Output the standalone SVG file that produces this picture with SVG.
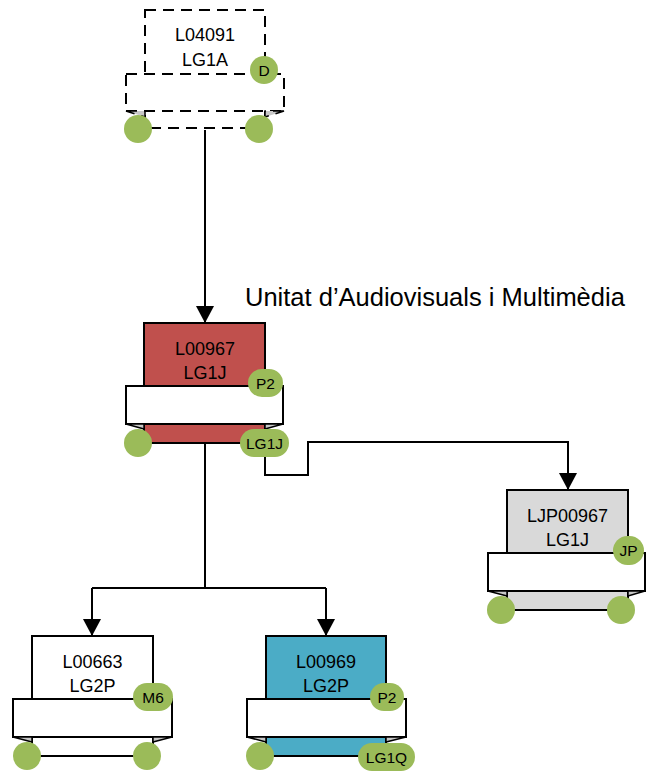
<svg xmlns="http://www.w3.org/2000/svg" width="646" height="771" viewBox="0 0 646 771">
<style>
.box{stroke:#000;stroke-width:2}
.dash{stroke-dasharray:11 7}
.ban{fill:#fff;stroke:#000;stroke-width:2}
.fold{fill:#C8C8C8;stroke:#000;stroke-width:1.5}
.dot{fill:#9BBB59}
.t{font-family:"Liberation Sans",Arial,sans-serif;font-size:18px;fill:#000;text-anchor:middle}
.p{font-family:"Liberation Sans",Arial,sans-serif;font-size:15.5px;fill:#000;text-anchor:middle}
.con{fill:none;stroke:#000;stroke-width:2}
</style>
<defs>
<marker id="arr" markerUnits="userSpaceOnUse" markerWidth="18" markerHeight="18" refX="17" refY="9" orient="auto">
<path d="M0,0 L17,9 L0,18 Z" fill="#000"/>
</marker>
</defs>

<g id="connectors">
<path class="con" d="M205,130 V323" marker-end="url(#arr)"/>
<path class="con" d="M205,443 V588 M92,588 H326"/>
<path class="con" d="M92,588 V636" marker-end="url(#arr)"/>
<path class="con" d="M326,588 V636" marker-end="url(#arr)"/>
<path class="con" d="M265,457 V475 H308 V442 H568 V490" marker-end="url(#arr)"/>
</g>

<g id="node-L04091">
<rect class="box dash" x="145" y="10" width="120" height="118" fill="#fff"/>
<text class="t" x="205" y="41">L04091</text>
<text class="t" x="205" y="66">LG1A</text>
<rect class="ban dash" x="126" y="74" width="158" height="37"/>
<polygon class="fold dash" points="126,111 145,111 145,117"/>
<polygon class="fold dash" points="284,111 265,111 265,117"/>
<circle class="dot" cx="138" cy="129" r="14"/>
<circle class="dot" cx="259" cy="129" r="14"/>
<circle class="dot" cx="264" cy="70" r="14"/>
<text class="p" x="264" y="75.5">D</text>
</g>

<g id="node-L00967">
<rect class="box" x="144" y="323" width="121" height="120" fill="#C0504D"/>
<text class="t" x="205" y="355">L00967</text>
<text class="t" x="205" y="379">LG1J</text>
<rect class="ban" x="126" y="386" width="157" height="38"/>
<polygon class="fold" points="126,424 144,424 144,429"/>
<polygon class="fold" points="283,424 265,424 265,429"/>
<circle class="dot" cx="138" cy="443" r="14"/>
<rect class="dot" x="240" y="429" width="49" height="28" rx="14"/>
<text class="p" x="264.5" y="448.5">LG1J</text>
<rect class="dot" x="248" y="369" width="35" height="28" rx="14"/>
<text class="p" x="265.5" y="388.5">P2</text>
</g>

<text id="label-unit" x="245" y="306" font-family="'Liberation Sans',Arial,sans-serif" font-size="25.5" fill="#000">Unitat d’Audiovisuals i Multimèdia</text>

<g id="node-LJP00967">
<rect class="box" x="507" y="490" width="121" height="120" fill="#D9D9D9"/>
<text class="t" x="567.5" y="522">LJP00967</text>
<text class="t" x="567.5" y="546">LG1J</text>
<rect class="ban" x="488" y="553" width="157" height="38"/>
<polygon class="fold" points="488,591 507,591 507,596"/>
<polygon class="fold" points="645,591 628,591 628,596"/>
<circle class="dot" cx="501" cy="610" r="14"/>
<circle class="dot" cx="621" cy="610" r="14"/>
<rect class="dot" x="613" y="536" width="31" height="29" rx="14.5"/>
<text class="p" x="628.5" y="556">JP</text>
</g>

<g id="node-L00663">
<rect class="box" x="32" y="636" width="121" height="120" fill="#fff"/>
<text class="t" x="92.5" y="668">L00663</text>
<text class="t" x="92.5" y="692">LG2P</text>
<rect class="ban" x="13" y="699" width="159" height="38"/>
<polygon class="fold" points="13,737 32,737 32,742"/>
<polygon class="fold" points="172,737 153,737 153,742"/>
<circle class="dot" cx="27" cy="756" r="14"/>
<circle class="dot" cx="147" cy="756" r="14"/>
<rect class="dot" x="133" y="683" width="40" height="28" rx="14"/>
<text class="p" x="153" y="702.5">M6</text>
</g>

<g id="node-L00969">
<rect class="box" x="266" y="636" width="120" height="120" fill="#4BACC6"/>
<text class="t" x="326" y="668">L00969</text>
<text class="t" x="326" y="692">LG2P</text>
<rect class="ban" x="247" y="699" width="159" height="38"/>
<polygon class="fold" points="247,737 266,737 266,742"/>
<polygon class="fold" points="406,737 386,737 386,742"/>
<circle class="dot" cx="260" cy="756" r="14"/>
<rect class="dot" x="370" y="683" width="34" height="28" rx="14"/>
<text class="p" x="387" y="702.5">P2</text>
<rect class="dot" x="358" y="743" width="57" height="28" rx="14"/>
<text class="p" x="386.5" y="762.5">LG1Q</text>
</g>
</svg>
